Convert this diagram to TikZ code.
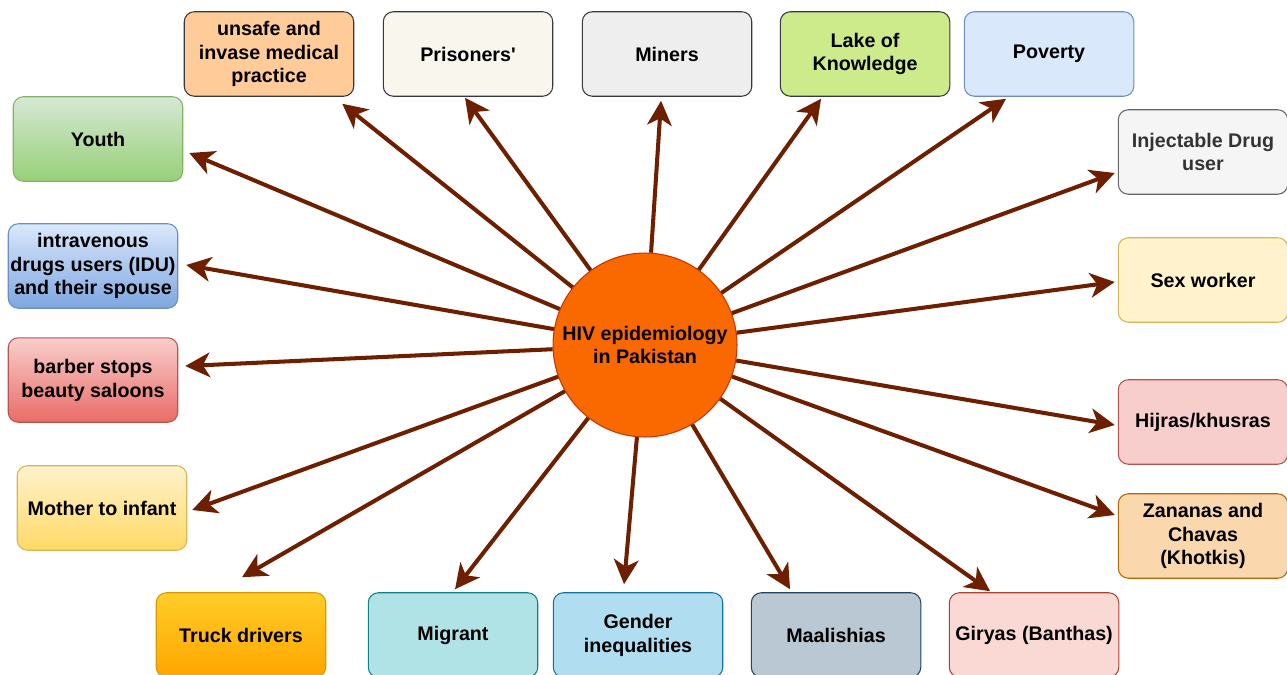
\documentclass[tikz,border=0pt]{standalone}
\usepackage{fontspec}
\setmainfont{Liberation Sans}
\usetikzlibrary{positioning,arrows.meta}

\definecolor{linkbrown}{HTML}{6D1F00}
\definecolor{hubfill}{HTML}{FA6800}
\definecolor{hubline}{HTML}{C73500}
\definecolor{darkline}{HTML}{36393D}
\definecolor{peach}{HTML}{FFCC99}
\definecolor{cream}{HTML}{F9F7ED}
\definecolor{lightgrey}{HTML}{EEEEEE}
\definecolor{lime}{HTML}{CDEB8B}
\definecolor{paleblue}{HTML}{DAE8FC}
\definecolor{blueline}{HTML}{6C8EBF}
\definecolor{palegreen}{HTML}{D5E8D4}
\definecolor{midgreen}{HTML}{97D077}
\definecolor{greenline}{HTML}{82B366}
\definecolor{midblue}{HTML}{7EA6E0}
\definecolor{palered}{HTML}{F8CECC}
\definecolor{midred}{HTML}{EA6B66}
\definecolor{redline}{HTML}{B85450}
\definecolor{paleyellow}{HTML}{FFF2CC}
\definecolor{midyellow}{HTML}{FFD966}
\definecolor{yellowline}{HTML}{D6B656}
\definecolor{amber}{HTML}{FFCD28}
\definecolor{orange}{HTML}{FFA500}
\definecolor{orangeline}{HTML}{D79B00}
\definecolor{teal}{HTML}{B0E3E6}
\definecolor{tealline}{HTML}{0E8088}
\definecolor{sky}{HTML}{B1DDF0}
\definecolor{skyline}{HTML}{10739E}
\definecolor{slate}{HTML}{BAC8D3}
\definecolor{slateline}{HTML}{23445D}
\definecolor{rose}{HTML}{FAD9D5}
\definecolor{roseline}{HTML}{AE4132}
\definecolor{smoke}{HTML}{F5F5F5}
\definecolor{smokeline}{HTML}{666666}
\definecolor{smoketext}{HTML}{333333}
\definecolor{tan}{HTML}{FAD7AC}
\definecolor{tanline}{HTML}{B46504}

\tikzset{
    box/.style={draw, line width=0.6pt, rounded corners=0.2cm, minimum width=3.39cm,
        minimum height=1.69cm, align=center, inner sep=1pt,
        font=\bfseries\fontsize{11.2}{13.6}\selectfont},
    hub/.style={circle, draw=hubline, fill=hubfill, line width=0.6pt, minimum size=3.68cm,
        inner sep=0pt, align=center, font=\bfseries\fontsize{11.2}{13.6}\selectfont},
    link/.style={draw=linkbrown, line width=2.3pt,
        -{Stealth[length=14pt,width=14pt,inset=4pt]}},
}

\begin{document}
\begin{tikzpicture}[x=0.02cm,y=-0.02cm]
    \useasboundingbox (0,0) rectangle (1287,675);

    \node[hub] (hiv) at (645,345) {HIV epidemiology\\in Pakistan};

    \node[box, fill=peach, draw=darkline] (unsafe) at (269,54) {unsafe and\\invase medical\\practice};
    \node[box, fill=cream, draw=darkline, right=0.57cm of unsafe] (prisoners) {Prisoners\textquotesingle};
    \node[box, fill=lightgrey, draw=darkline, right=0.57cm of prisoners] (miners) {Miners};
    \node[box, fill=lime, draw=darkline, right=0.55cm of miners] (lake) {Lake of\\Knowledge};
    \node[box, fill=paleblue, draw=blueline, right=0.27cm of lake] (poverty) {Poverty};

    \node[box, top color=palegreen, bottom color=midgreen, draw=greenline] (youth) at (98,139) {Youth};
    \node[box, top color=paleblue, bottom color=midblue, draw=blueline] (idu) at (93,266) {intravenous\\drugs users (IDU)\\and their spouse};
    \node[box, top color=palered, bottom color=midred, draw=redline, below=0.57cm of idu] (barber) {barber stops\\beauty saloons};
    \node[box, top color=paleyellow, bottom color=midyellow, draw=yellowline] (mother) at (102,508) {Mother to infant};

    \node[box, top color=amber, bottom color=orange, draw=orangeline] (truck) at (241,635) {Truck drivers};
    \node[box, fill=teal, draw=tealline, right=0.83cm of truck] (migrant) {Migrant};
    \node[box, fill=sky, draw=skyline, right=0.29cm of migrant] (gender) {Gender\\inequalities};
    \node[box, fill=slate, draw=slateline, right=0.55cm of gender] (maal) {Maalishias};
    \node[box, fill=rose, draw=roseline, right=0.55cm of maal] (giryas) {Giryas (Banthas)};

    \node[box, fill=smoke, draw=smokeline, text=smoketext] (injectable) at (1203,152) {Injectable Drug\\user};
    \node[box, fill=paleyellow, draw=yellowline] (sexwork) at (1203,280) {Sex worker};
    \node[box, fill=palered, draw=redline] (hijras) at (1203,422) {Hijras/khusras};
    \node[box, fill=tan, draw=tanline] (zananas) at (1203,536) {Zananas and\\Chavas\\(Khotkis)};

    \draw[link] (hiv) -- ([shift={(6,14)}]youth.east);
    \draw[link] (hiv) -- ([shift={(-12,7)}]unsafe.south east);
    \draw[link] (hiv) -- ([shift={(-3,1)}]prisoners.south);
    \draw[link] (hiv) -- ([shift={(-6,4)}]miners.south);
    \draw[link] (hiv) -- ([shift={(-44,2)}]lake.south);
    \draw[link] (hiv) -- ([shift={(-43,2)}]poverty.south);
    \draw[link] (hiv) -- ([shift={(-3,21)}]injectable.west);
    \draw[link] (hiv) -- ([shift={(-3,2)}]sexwork.west);
    \draw[link] (hiv) -- ([shift={(-3,3)}]hijras.west);
    \draw[link] (hiv) -- ([shift={(-3,-21)}]zananas.west);
    \draw[link] (hiv) -- ([shift={(-44,-1)}]giryas.north);
    \draw[link] (hiv) -- ([shift={(-46,-3)}]maal.north);
    \draw[link] (hiv) -- ([shift={(-14,-8)}]gender.north);
    \draw[link] (hiv) -- ([shift={(2,-3)}]migrant.north);
    \draw[link] (hiv) -- ([shift={(1,-15)}]truck.north);
    \draw[link] (hiv) -- ([shift={(5,2)}]mother.east);
    \draw[link] (hiv) -- ([shift={(7,-14)}]barber.east);
    \draw[link] (hiv) -- ([shift={(8,-1)}]idu.east);
\end{tikzpicture}
\end{document}
